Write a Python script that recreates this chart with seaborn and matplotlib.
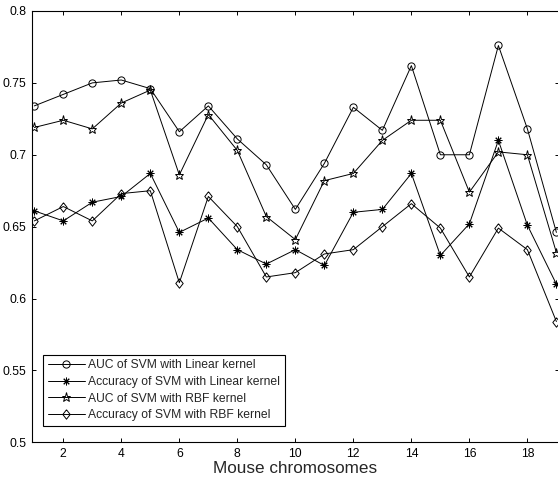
import matplotlib
matplotlib.use("Agg")
import matplotlib.pyplot as plt
import numpy as np
import pandas as pd
import seaborn as sns

chromosomes = list(range(1, 20))
auc_linear = [0.734, 0.742, 0.750, 0.752, 0.746, 0.716, 0.734, 0.711, 0.693, 0.662,
              0.694, 0.733, 0.717, 0.762, 0.700, 0.700, 0.776, 0.718, 0.646]
acc_linear = [0.661, 0.654, 0.667, 0.671, 0.687, 0.646, 0.656, 0.634, 0.624, 0.634,
              0.623, 0.660, 0.662, 0.687, 0.630, 0.652, 0.710, 0.651, 0.610]
auc_rbf = [0.719, 0.724, 0.718, 0.736, 0.745, 0.686, 0.728, 0.703, 0.657, 0.641,
           0.682, 0.687, 0.710, 0.724, 0.724, 0.674, 0.702, 0.700, 0.632]
acc_rbf = [0.654, 0.664, 0.654, 0.673, 0.675, 0.611, 0.671, 0.650, 0.615, 0.618,
           0.631, 0.634, 0.650, 0.666, 0.649, 0.615, 0.649, 0.634, 0.584]

series_names = ["AUC of SVM with Linear kernel",
                "Accuracy of SVM with Linear kernel",
                "AUC of SVM with RBF kernel",
                "Accuracy of SVM with RBF kernel"]
x_ticks = [2, 4, 6, 8, 10, 12, 14, 16, 18]
y_ticks = [0.5, 0.55, 0.6, 0.65, 0.7, 0.75, 0.8]
y_tick_labels = ["0.5", "0.55", "0.6", "0.65", "0.7", "0.75", "0.8"]
x_label = "Mouse chromosomes"

sns.set_style("ticks")
plt.rcParams["font.family"] = ["Liberation Sans", "DejaVu Sans"]

diamond = [(0, 1), (0.78, 0), (0, -1), (-0.78, 0), (0, 1)]
styles = [
    dict(marker="o", markersize=5.2),
    dict(marker=(8, 2, 0), markersize=5.5),
    dict(marker="*", markersize=6.5),
    dict(marker=diamond, markersize=6.8),
]

fig = plt.figure(figsize=(5.58, 4.80), dpi=100)
ax = fig.add_axes([0.0568, 0.0785, 0.9450, 0.8986])

for name, vals, st in zip(series_names, [auc_linear, acc_linear, auc_rbf, acc_rbf], styles):
    df = pd.DataFrame({"chromosome": chromosomes, "value": vals})
    sns.lineplot(data=df, x="chromosome", y="value", ax=ax, color="black",
                 linewidth=0.7, markerfacecolor="none", markeredgecolor="black",
                 markeredgewidth=0.7, label=name, **st)

ax.set_xlim(0.91, 19.09)
ax.set_ylim(0.5, 0.8)
ax.set_xticks(x_ticks)
ax.set_xticklabels([str(t) for t in x_ticks])
ax.set_yticks(y_ticks)
ax.set_yticklabels(y_tick_labels)
ax.tick_params(direction="in", length=3, width=0.7, top=True, right=True,
               labelsize=8.7, colors="black", pad=4)
for s in ax.spines.values():
    s.set_visible(True)
    s.set_linewidth(0.8)
    s.set_color("black")
ax.set_xlabel(x_label, fontsize=12.3, labelpad=1)
ax.set_ylabel("")

leg = ax.legend(loc="lower left", bbox_to_anchor=(0.0209, 0.0378), borderaxespad=0,
                fontsize=8.7, frameon=True, fancybox=False, framealpha=1,
                edgecolor="black", handlelength=3.06, handletextpad=0.3,
                borderpad=0.4, labelspacing=0.38, numpoints=1)
leg.get_frame().set_linewidth(0.8)

fig.savefig("out.png", dpi=100)
